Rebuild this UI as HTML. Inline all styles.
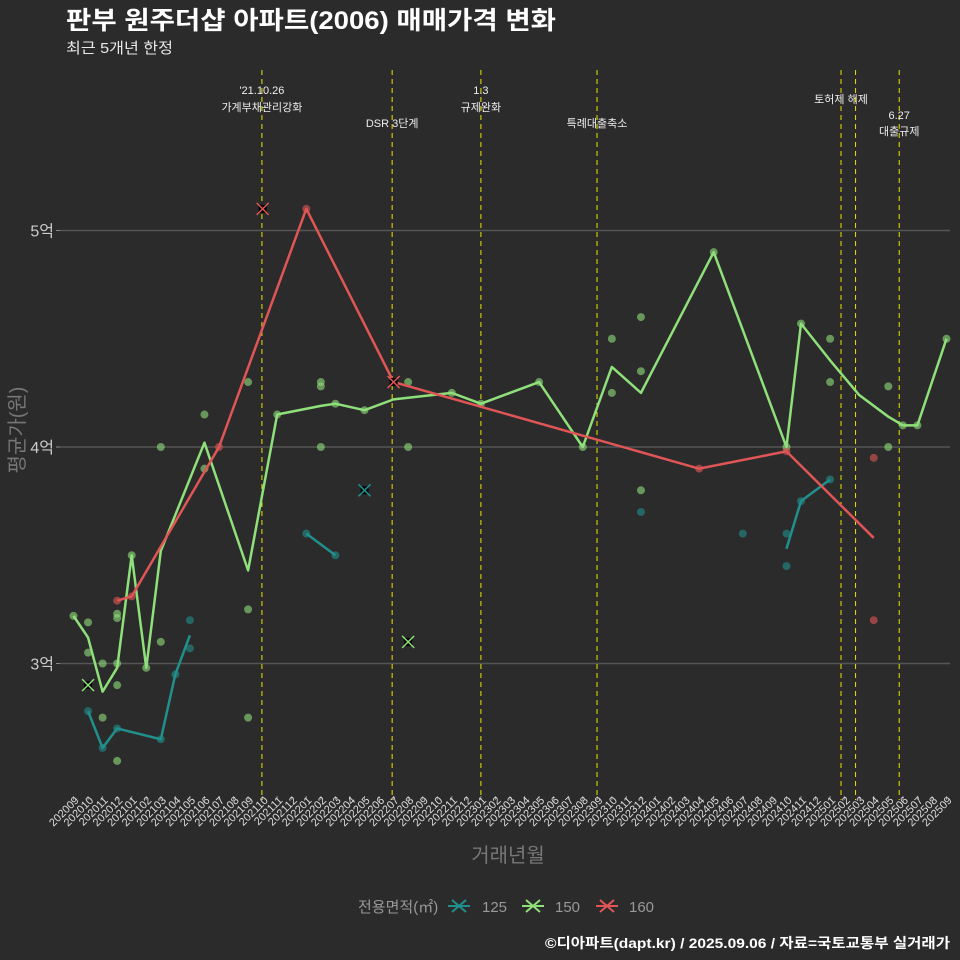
<!DOCTYPE html>
<html><head><meta charset="utf-8"><style>
body{margin:0;background:#2b2b2b;}
svg{display:block;font-family:"Liberation Sans","Noto Sans CJK KR",sans-serif;}
</style></head><body>
<svg id="chart" width="960" height="960" xmlns="http://www.w3.org/2000/svg">
<rect width="960" height="960" fill="#2b2b2b"/>
<text x="66" y="29" fill="#fff" font-size="25" font-weight="bold" textLength="490" lengthAdjust="spacingAndGlyphs">판부 원주더샵 아파트(2006) 매매가격 변화</text>
<text x="66" y="53" fill="#e8e8e8" font-size="15" textLength="107" lengthAdjust="spacingAndGlyphs">최근 5개년 한정</text>
<g id="grid"></g><g id="events"></g><g id="marks"></g><g id="axes"></g>
<text transform="translate(24,430) rotate(-90)" text-anchor="middle" fill="#777" font-size="20">평균가(원)</text>
<text x="508" y="862" text-anchor="middle" fill="#777" font-size="20">거래년월</text>
<g>
<text x="358" y="912" fill="#999" font-size="15">전용면적(㎡)</text>
<g><path d="M448 906h22M452 900l14 12M452 912l14-12" stroke="#21908c" stroke-width="2"/><text x="482" y="912" fill="#999" font-size="15">125</text></g>
<g><path d="M522 906h22M526 900l14 12M526 912l14-12" stroke="#8fe07a" stroke-width="2"/><text x="555" y="912" fill="#999" font-size="15">150</text></g>
<g><path d="M596 906h22M600 900l14 12M600 912l14-12" stroke="#e05555" stroke-width="2"/><text x="629" y="912" fill="#999" font-size="15">160</text></g>
</g>
<text x="950" y="948" text-anchor="end" fill="#fff" font-size="14" font-weight="bold" textLength="405" lengthAdjust="spacingAndGlyphs">©디아파트(dapt.kr) / 2025.09.06 / 자료=국토교통부 실거래가</text>
</svg>
<script>
const months=[];for(let y=2020,m=9;!(y===2025&&m===10);){months.push(''+y+(m<10?'0':'')+m);m++;if(m>12){m=1;y++;}}
const yTicks=[3,4,5];
const yTickLabels=['3억','4억','5억'];
const line125=[[1,2.78],[2,2.61],[3,2.70],[6,2.65],[7,2.95],[8,3.13],[16,3.60],[18,3.50],[49,3.53],[50,3.75],[52,3.85]];
const line150=[[0,3.22],[1,3.12],[2,2.87],[3,2.98],[4,3.50],[5,2.98],[6,3.52],[9,4.02],[12,3.43],[14,4.15],[17,4.19],[18,4.20],[20,4.17],[22,4.22],[26,4.25],[28,4.20],[32,4.30],[35,4.00],[37,4.37],[39,4.25],[44,4.90],[49,4.00],[50,4.57],[52,4.40],[54,4.24],[56,4.14],[57,4.10],[58,4.10],[60,4.50]];
const line160=[[3,3.29],[4,3.31],[10,4.00],[16,5.10],[22,4.30],[43,3.90],[49,3.98],[55,3.58]];
const dots125=[[1,2.78],[2,2.61],[3,2.70],[6,2.65],[7,2.95],[8,3.07],[8,3.20],[16,3.60],[18,3.50],[46,3.60],[49,3.60],[49,3.45],[50,3.75],[52,3.85],[39,3.70]];
const dots150=[[0,3.22],[1,3.19],[1,3.05],[2,3.00],[2,2.75],[3,3.23],[3,3.21],[3,3.00],[3,2.90],[3,2.55],[4,3.50],[5,2.98],[6,3.10],[6,4.00],[9,4.15],[9,3.90],[12,4.30],[12,3.25],[12,2.75],[14,4.15],[17,4.30],[17,4.28],[17,4.00],[18,4.20],[20,4.17],[23,4.30],[23,4.00],[26,4.25],[28,4.20],[32,4.30],[35,4.00],[37,4.50],[37,4.25],[39,4.60],[39,4.35],[39,3.80],[44,4.90],[49,4.00],[50,4.57],[52,4.50],[52,4.30],[56,4.28],[56,4.00],[57,4.10],[58,4.10],[60,4.50]];
const dots160=[[3,3.29],[4,3.31],[10,4.00],[16,5.10],[22,4.30],[43,3.90],[49,3.98],[55,3.95],[55,3.20]];
const crosses=[[13,5.10,'160'],[1,2.90,'150'],[20,3.80,'125'],[22,4.30,'160'],[23,3.10,'150']];
const eventPos=[12.95,21.9,28.0,35.98,52.75,53.75,56.75];
const eventLabels=[["'21.10.26","가계부채관리강화"],["","DSR 3단계"],["1.3","규제완화"],["","특례대출축소"],["토허제 해제",""],["",""],["6.27","대출규제"]];
const eventLabelY=[[94,111],[0,127],[94,111],[0,127],[103,0],[0,0],[119,135]];

const X=i=>73.5+i*14.55, Y=v=>447-(v-4)*216.5;
const NS='http://www.w3.org/2000/svg';
const colors={'125':'#21908c','150':'#8fe07a','160':'#e05555'};
function mk(p,tag,attrs){const e=document.createElementNS(NS,tag);for(const k in attrs)e.setAttribute(k,attrs[k]);p.appendChild(e);return e;}
const grid=document.getElementById('grid'),ev=document.getElementById('events'),marks=document.getElementById('marks'),axes=document.getElementById('axes');
yTicks.forEach((t,i)=>{
 const g=mk(grid,'line',{x1:60,x2:950,y1:Y(t),y2:Y(t),stroke:'#555','stroke-width':1.5});
 
 
 mk(axes,'line',{x1:56,x2:60,y1:Y(t),y2:Y(t),stroke:'#888'});
 const l=mk(axes,'text',{x:54,y:Y(t)+6,'text-anchor':'end',fill:'#ccc','font-size':16});l.textContent=yTickLabels[i];
 
 
});
months.forEach((m,i)=>{
 mk(axes,'line',{x1:X(i),x2:X(i),y1:796,y2:800,stroke:'#888'});
 const t=mk(axes,'text',{transform:`translate(${X(i)+6},${801}) rotate(-45)`,'text-anchor':'end',fill:'#ddd','font-size':11});t.textContent=m;
 
 
});
eventPos.forEach((p,i)=>{
 const l=mk(ev,'line',{x1:X(p),x2:X(p),y1:70,y2:800,stroke:'#e6e600','stroke-width':1,'stroke-dasharray':'5,4'});
 
 
 eventLabels[i].forEach((s,j)=>{if(!s)return;const t=mk(ev,'text',{x:X(p),y:eventLabelY[i][j],'text-anchor':'middle',fill:'#eee','font-size':11});t.textContent=s;
 
 });
});
[['125',dots125],['150',dots150],['160',dots160]].forEach(([k,d])=>d.forEach(([i,v])=>{
 const c=mk(marks,'circle',{cx:X(i),cy:Y(v),r:4,fill:colors[k],opacity:0.6});
 
 
}));
[['125',line125],['150',line150],['160',line160]].forEach(([k,d])=>{
 const segs=[];let cur=[];
 d.forEach((p,j)=>{if(j>0&&k==='125'&&p[0]-d[j-1][0]>3){segs.push(cur);cur=[];}cur.push(p);});segs.push(cur);
 segs.forEach(s=>{const pl=mk(marks,'polyline',{points:s.map(([i,v])=>X(i)+','+Y(v)).join(' '),fill:'none',stroke:colors[k],'stroke-width':2.5,'stroke-linejoin':'round'});
 
 });
});
crosses.forEach(([i,v,k])=>{
 const x=X(i),y=Y(v);
 mk(marks,'rect',{x:x-4,y:y-4,width:8,height:8,fill:'#000'});
 const p=mk(marks,'path',{d:`M${x-6} ${y-6}L${x+6} ${y+6}M${x-6} ${y+6}L${x+6} ${y-6}`,stroke:colors[k],'stroke-width':1.5});
 
 
});
</script>
</body></html>
